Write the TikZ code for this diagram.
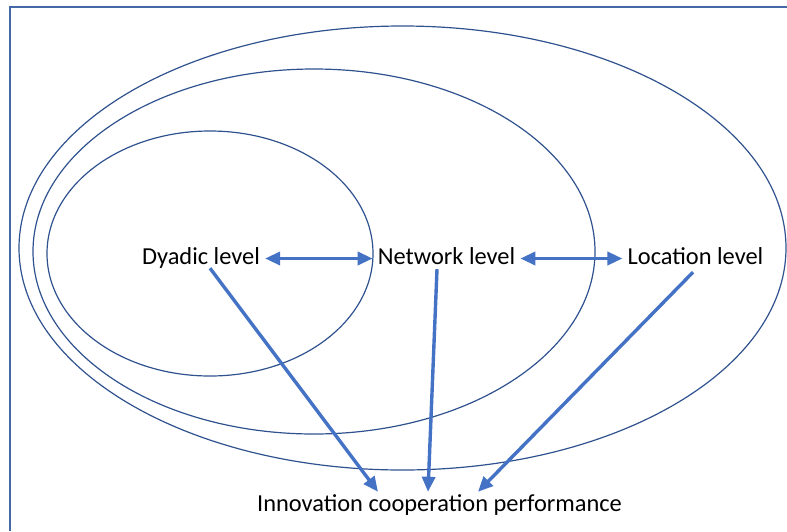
\documentclass[tikz,border=0pt]{standalone}
\usepackage{fontspec}
\setmainfont{Carlito}
\usetikzlibrary{arrows.meta}
\definecolor{ringblue}{HTML}{2F528F}
\definecolor{arrowblue}{HTML}{4472C4}
\definecolor{frameblue}{HTML}{4568A6}
\tikzstyle{ring} = [draw=ringblue,line width=1.2pt]

\begin{document}
\begin{tikzpicture}
		[
		x=1pt,y=-1pt,
		level/.style={
		inner xsep=5pt,
		inner ysep=3pt,
		text height=16pt,
		text depth=5pt,
		anchor=base,
		font=\fontsize{24.4}{29}\selectfont},
		link/.style={
		draw=arrowblue,
		line width=3.4pt,
		-{Triangle[length=15pt,width=13pt]}},
		both/.style={
		link,
		{Triangle[length=15pt,width=13pt]}-{Triangle[length=15pt,width=13pt]}}
		]
		\useasboundingbox (0,0) rectangle (787,531);
		\draw[frameblue,line width=1.6pt] (10,531) -- (10,7) -- (787,7);
		% the three levels
		\draw[ring] (402.5,248) ellipse [x radius=383.5pt, y radius=222pt];
		\draw[ring] (314,251.5) ellipse [x radius=281pt, y radius=182.5pt];
		\draw[ring] (210,253.5) ellipse [x radius=163pt, y radius=122.5pt];
		\node[level](dyadic) at (201,264) {Dyadic level};
		\node[level](network) at (446.5,264) {Network level};
		\node[level](location) at (695.5,264) {Location level};
		\node[level](performance) at (439.5,511) {Innovation cooperation performance};
		\draw[both] (dyadic.east) -- (network.west);
		\draw[both] (network.east) -- (location.west);
		\draw[link] ([xshift=9pt,yshift=4pt]dyadic.south) -- ([xshift=-61.5pt]performance.north);
		\draw[link] ([xshift=-9.5pt,yshift=3pt]network.south) -- ([xshift=-11.5pt]performance.north);
		\draw[link] ([xshift=-2.5pt]location.south) -- ([xshift=38.5pt]performance.north);
		\end{tikzpicture}
\end{document}
